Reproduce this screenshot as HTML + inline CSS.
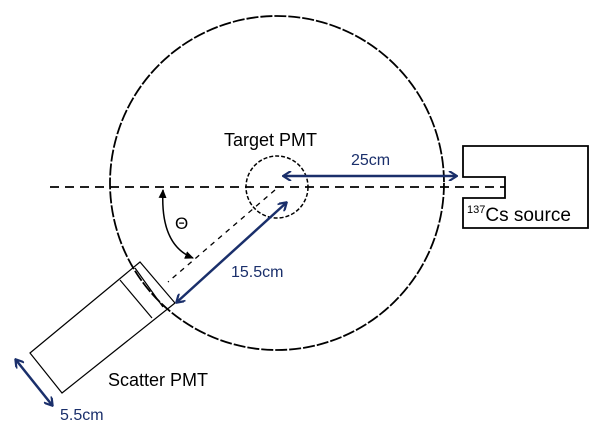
<!DOCTYPE html>
<html><head><style>body{margin:0;background:#fff}svg{display:block}</style></head><body>
<svg width="603" height="433" xmlns="http://www.w3.org/2000/svg" font-family="Liberation Sans, sans-serif">
<defs>
<marker id="a" markerWidth="10" markerHeight="10" refX="8" refY="5" orient="auto-start-reverse" markerUnits="userSpaceOnUse"><path d="M1,0 L9,5 L1,10" fill="none" stroke="#1a2f6b" stroke-width="2.2"/></marker>
<marker id="b" markerWidth="10" markerHeight="10" refX="8" refY="5" orient="auto-start-reverse" markerUnits="userSpaceOnUse"><path d="M0,1 L9,5 L0,9z" fill="#000"/></marker>
</defs>
<circle cx="277" cy="183" r="167" fill="none" stroke="#000" stroke-width="1.8" stroke-dasharray="12,2"/>
<circle cx="277" cy="187" r="31" fill="none" stroke="#000" stroke-width="1.5" stroke-dasharray="4,2"/>
<line x1="50" y1="187" x2="505" y2="187" stroke="#000" stroke-width="1.8" stroke-dasharray="9,6"/>
<line x1="275" y1="190" x2="168" y2="282" stroke="#000" stroke-width="1.3" stroke-dasharray="5,5"/>
<path d="M463,146 H588 V228 H463 V198 H505 V177 H463 Z" fill="#fff" stroke="#000" stroke-width="1.8"/>
<polygon points="30,353 62,393 175,303 140,262" fill="none" stroke="#000" stroke-width="1.2"/>
<line x1="120" y1="280" x2="152" y2="318" stroke="#000" stroke-width="1.2"/>
<line x1="135" y1="268" x2="163" y2="307" stroke="#000" stroke-width="1.2"/>
<path d="M163,190 Q160,245 193,258" fill="none" stroke="#000" stroke-width="1.5" marker-start="url(#b)" marker-end="url(#b)"/>
<line x1="284" y1="176" x2="456" y2="176" stroke="#1a2f6b" stroke-width="2.5" marker-start="url(#a)" marker-end="url(#a)"/>
<line x1="286" y1="203" x2="177" y2="302" stroke="#1a2f6b" stroke-width="2.5" marker-start="url(#a)" marker-end="url(#a)"/>
<line x1="16" y1="360" x2="52" y2="405" stroke="#1a2f6b" stroke-width="2.5" marker-start="url(#a)" marker-end="url(#a)"/>
<text x="224" y="146" font-size="18">Target PMT</text>
<text x="351" y="165" font-size="16" fill="#1a2f6b">25cm</text>
<text x="231" y="277" font-size="16" fill="#1a2f6b">15.5cm</text>
<text x="60" y="420" font-size="16" fill="#1a2f6b">5.5cm</text>
<text x="108" y="386" font-size="18">Scatter PMT</text>
<text x="175" y="229" font-size="17">Θ</text>
<text x="467" y="221" font-size="19"><tspan font-size="11" dy="-8">137</tspan><tspan dy="8">Cs source</tspan></text>
</svg>
</body></html>
